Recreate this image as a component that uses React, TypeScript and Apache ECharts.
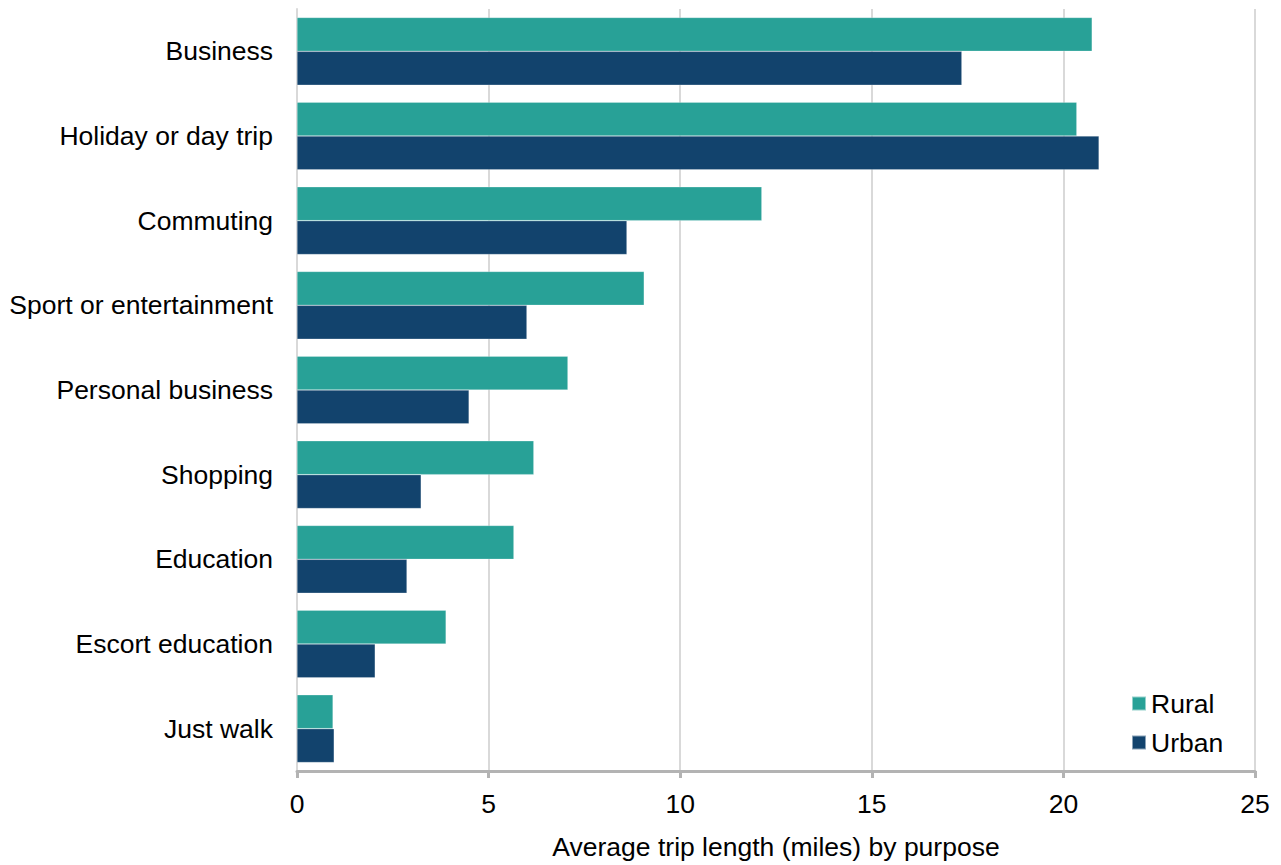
import React, { useEffect, useRef } from "react";
import * as echarts from "echarts";

const categories = [
  "Business",
  "Holiday or day trip",
  "Commuting",
  "Sport or entertainment",
  "Personal business",
  "Shopping",
  "Education",
  "Escort education",
  "Just walk",
];
const rural = [20.75, 20.35, 12.13, 9.06, 7.07, 6.18, 5.66, 3.89, 0.94];
const urban = [17.35, 20.93, 8.61, 6.0, 4.49, 3.24, 2.87, 2.04, 0.97];
const xTicks = { min: 0, max: 25, interval: 5 };
const axisTitle = "Average trip length (miles) by purpose";

const FONT = "'Liberation Sans', Arial, sans-serif";
const FS = 26.5;

export default function App() {
  const ref = useRef<HTMLDivElement>(null);
  useEffect(() => {
    if (!ref.current) return;
    const chart = echarts.init(ref.current, undefined, { renderer: "svg" });
    chart.setOption({
      animation: false,
      textStyle: { fontFamily: FONT },
      grid: { left: 297, right: 26, top: 9, bottom: 91, containLabel: false },
      legend: {
        orient: "vertical",
        left: 1126,
        top: 685,
        icon: "rect",
        itemWidth: 14,
        itemHeight: 14,
        itemGap: 12,
        textStyle: { fontSize: FS, color: "#000", fontFamily: FONT },
        data: ["Rural", "Urban"],
      },
      xAxis: {
        type: "value",
        min: xTicks.min,
        max: xTicks.max,
        interval: xTicks.interval,
        name: axisTitle,
        nameLocation: "middle",
        nameGap: 62,
        nameTextStyle: { fontSize: FS, color: "#000", fontFamily: FONT },
        axisLine: { show: true, lineStyle: { color: "#b3b3b3", width: 3 } },
        axisTick: { show: true, length: 7, lineStyle: { color: "#b3b3b3", width: 3 } },
        axisLabel: { fontSize: FS, color: "#000", margin: 19, fontFamily: FONT },
        splitLine: { show: true, lineStyle: { color: "#d9d9d9", width: 2 } },
      },
      yAxis: {
        type: "category",
        data: categories,
        inverse: true,
        axisLine: { show: true, lineStyle: { color: "#d9d9d9", width: 2 } },
        axisTick: { show: false },
        axisLabel: { fontSize: FS, color: "#000", margin: 24, fontFamily: FONT },
      },
      series: [
        {
          name: "Rural",
          type: "bar",
          data: rural,
          barGap: "0%",
          barCategoryGap: "20%",
          itemStyle: { color: "#28A197", borderColor: "rgba(255,255,255,0.5)", borderWidth: 0.5 },
        },
        {
          name: "Urban",
          type: "bar",
          data: urban,
          barGap: "0%",
          barCategoryGap: "20%",
          itemStyle: { color: "#12436D", borderColor: "rgba(255,255,255,0.5)", borderWidth: 0.5 },
        },
      ],
    });
    return () => chart.dispose();
  }, []);
  return (
    <div
      ref={ref}
      style={{ position: "absolute", left: 0, top: 0, width: 1281, height: 865 }}
    />
  );
}
